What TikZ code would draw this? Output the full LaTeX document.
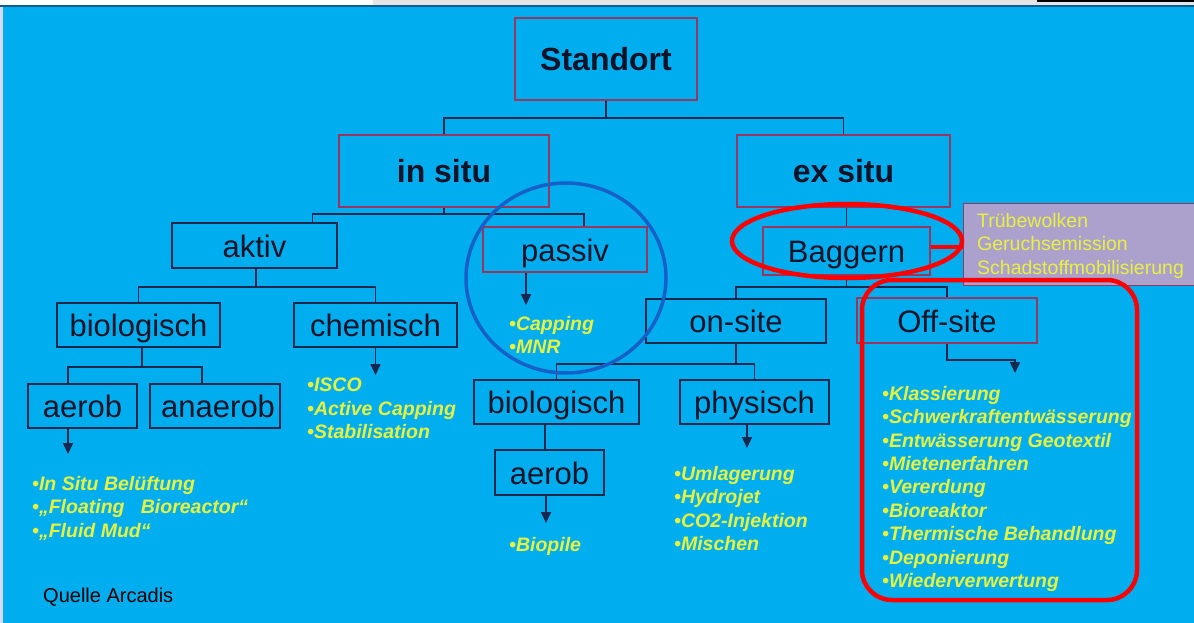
\documentclass[tikz,border=0pt]{standalone}
\usepackage{fontspec}
\setmainfont{Liberation Sans}
\usetikzlibrary{positioning, arrows.meta}

\definecolor{bgcyan}{RGB}{0,174,239}
\definecolor{navyline}{RGB}{22,40,78}
\definecolor{mauveline}{RGB}{150,55,95}
\definecolor{boxtext}{RGB}{10,20,40}
\definecolor{listyellow}{RGB}{232,242,62}
\definecolor{lavender}{RGB}{172,160,205}
\definecolor{markred}{RGB}{255,0,0}
\definecolor{markblue}{RGB}{22,96,200}

\begin{document}
\begin{tikzpicture}[x=1pt, y=-1pt,
    navybox/.style={rectangle, draw=navyline, line width=1.5pt, inner sep=0pt,
                    text=boxtext, font=\fontsize{31}{36}\selectfont,
                    text height=23pt, text depth=0pt},
    redbox/.style={navybox, draw=mauveline},
    headbox/.style={redbox, font=\fontsize{32}{38}\selectfont\bfseries},
    conn/.style={draw=navyline, line width=1.6pt},
    arrow/.style={conn, -{Stealth[length=11pt, width=10pt, inset=0pt]}},
    liste/.style={anchor=north west, align=left, inner sep=0pt, text=listyellow,
                  font=\fontsize{19.5}{23.4}\selectfont\bfseries\itshape},
    redmark/.style={draw=markred, line width=4.5pt},
    bluemark/.style={draw=markblue, line width=3.5pt}
]

    \useasboundingbox (0,0) rectangle (1194,623);
    \fill[bgcyan] (0,0) rectangle (1194,623);
    % top strip of the slide
    \fill[white] (0,0) rectangle (373,5);
    \fill[gray!20] (373,0) rectangle (1194,5);
    \fill[black] (1037,0) rectangle (1194,2);
    \fill[navyline!60!bgcyan] (0,5) rectangle (1194,7);
    \fill[blue!15!white] (0,7) rectangle (3,623);

    % Level 1
    \node[headbox, minimum width=182pt, minimum height=82pt] (standort) at (606,59) {Standort};

    % Level 2
    \node[headbox, minimum width=210pt, minimum height=72pt] (insitu) at (444,171) {in situ};
    \node[headbox, minimum width=213pt, minimum height=72pt] (exsitu) at (843.5,171) {ex situ};

    % Level 3
    \node[navybox, minimum width=165pt, minimum height=45pt] (aktiv) at (254.5,245.5) {aktiv};
    \node[redbox, minimum width=164pt, minimum height=45pt] (passiv) at (565,249.5) {passiv};
    \node[redbox, minimum width=167pt, minimum height=48pt] (baggern) at (846.5,251) {Baggern};

    % Level 4
    \node[navybox, minimum width=163pt, minimum height=44pt] (bioA) at (138.5,325) {biologisch};
    \node[navybox, minimum width=163pt, minimum height=44pt] (chem) at (375.5,325) {chemisch};
    \node[navybox, minimum width=180pt, minimum height=44pt] (onsite) at (736,321) {on-site};
    \node[redbox, minimum width=180pt, minimum height=45pt] (offsite) at (947,320.5) {Off-site};

    % Level 5
    \node[navybox, minimum width=109pt, minimum height=44pt] (aerobA) at (82.5,406) {aerob};
    \node[navybox, minimum width=130pt, minimum height=44pt, text width=120pt, align=right] (anaerob) at (215,406) {anaerob};
    \node[navybox, minimum width=165pt, minimum height=44pt] (bioB) at (556.5,402) {biologisch};
    \node[navybox, minimum width=149pt, minimum height=44pt] (physisch) at (754.5,402) {physisch};
    \node[navybox, minimum width=109pt, minimum height=45pt] (aerobB) at (549.5,472.5) {aerob};

    % Problem box
    \node[rectangle, draw=mauveline, line width=1pt, fill=lavender, inner sep=0pt,
          minimum width=231pt, minimum height=82pt, anchor=north west] (probbox) at (963,203) {};
    \node[anchor=north west, align=left, inner sep=0pt, text=listyellow,
          font=\fontsize{19.5}{23.5}\selectfont] (probtext) at (977,213)
          {Trübewolken\\Geruchsemission\\Schadstoffmobilisierung};

    % Lists
    \node[liste] (listA) at (32,476) {•In Situ Belüftung\\•„Floating~~ Bioreactor“\\•„Fluid Mud“};
    \node[liste] (chemlist) at (307,378) {•ISCO\\•Active Capping\\•Stabilisation};
    \node[liste] (passlist) at (509,316) {•Capping\\•MNR};
    \node[liste] (biopile) at (509,537) {•Biopile};
    \node[liste] (physlist) at (674,466) {•Umlagerung\\•Hydrojet\\•CO2-Injektion\\•Mischen};
    \node[liste] (offlist) at (882,386) {•Klassierung\\•Schwerkraftentwässerung\\•Entwässerung Geotextil\\•Mietenerfahren\\•Vererdung\\•Bioreaktor\\•Thermische Behandlung\\•Deponierung\\•Wiederverwertung};

    \node[anchor=west, inner sep=0pt, font=\fontsize{20}{24}\selectfont] (quelle) at (43,597) {Quelle Arcadis};

    % Tree lines
    \draw[conn] (standort.south) -- ++(0,17) -| (insitu.north);
    \draw[conn] (standort.south) -- ++(0,17) -| (exsitu.north);
    \draw[conn] (insitu.south) -- ++(0,6) -| ([xshift=58pt]aktiv.north);
    \draw[conn] (insitu.south) -- ++(0,6) -| ([xshift=19pt]passiv.north);
    \draw[conn] (exsitu.south -| baggern.north) -- (baggern.north);
    \draw[conn] ([xshift=1.5pt]aktiv.south) -- ++(0,18) -| (bioA.north);
    \draw[conn] ([xshift=1.5pt]aktiv.south) -- ++(0,18) -| (chem.north);
    \draw[conn] ([xshift=3.5pt]bioA.south) -- ++(0,19) -| ([xshift=-14.5pt]aerobA.north);
    \draw[conn] ([xshift=3.5pt]bioA.south) -- ++(0,19) -| ([xshift=-13pt]anaerob.north);
    \draw[conn] (baggern.south) -- ++(0,11) -| (offsite.north);
    \draw[conn] (baggern.south) -- ++(0,11) -| (onsite.north);
    \draw[conn] (onsite.south) -- ++(0,20) -| (bioB.north);
    \draw[conn] (onsite.south) -- ++(0,20) -| (physisch.north);
    \draw[conn] ([xshift=-4.5pt]aerobB.north |- bioB.south) -- ([xshift=-4.5pt]aerobB.north);

    % Arrows to the lists
    \draw[arrow, shorten >=3pt] (chem.south) -- (chem.south |- chemlist.north);
    \draw[arrow, shorten >=22pt] ([xshift=-14.5pt]aerobA.south) -- ([xshift=-14.5pt]aerobA.south |- listA.north);
    \draw[arrow, shorten >=11pt] ([xshift=-39pt]passiv.south) -- ([xshift=-39pt]passiv.south |- passlist.north);
    \draw[arrow, shorten >=18pt] ([xshift=-7.5pt]physisch.south) -- ([xshift=-7.5pt]physisch.south |- physlist.north);
    \draw[arrow, shorten >=14pt] ([xshift=-3.5pt]aerobB.south) -- ([xshift=-3.5pt]aerobB.south |- biopile.north);
    \draw[arrow, shorten >=13pt] (offsite.south) -- ++(0,16) -| ([xshift=133pt]offlist.north west);

    % Markings
    \draw[bluemark] (566,278) ellipse [x radius=100pt, y radius=95pt];
    \draw[redmark] (847,241) ellipse [x radius=115pt, y radius=37pt];
    \draw[redmark, line width=4pt] ([yshift=4pt]baggern.east) -- ([yshift=4pt]baggern.east -| probbox.west);
    \draw[redmark, rounded corners=30pt] (862,280) rectangle (1137,600);

\end{tikzpicture}
\end{document}
